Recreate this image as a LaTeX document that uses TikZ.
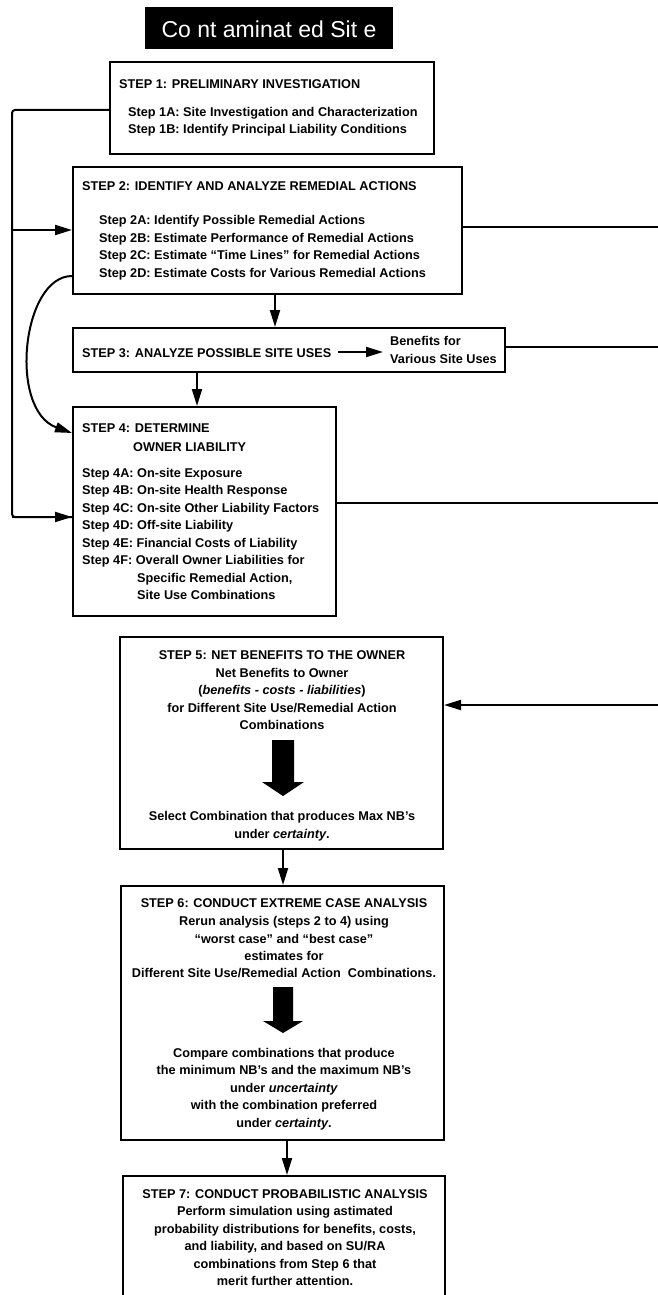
\documentclass[tikz,border=0pt]{standalone}
\usepackage{fontspec}
\setmainfont{Liberation Sans}
\usetikzlibrary{arrows.meta}
\begin{document}
\begin{tikzpicture}[x=1pt,y=-1pt,
  box/.style={draw,line width=2pt,anchor=north west,inner sep=0pt},
  txt/.style={font=\fontsize{12.7}{15}\selectfont\bfseries,anchor=base west,inner sep=0pt},
  ctxt/.style={font=\fontsize{12.7}{15}\selectfont\bfseries,anchor=base,inner sep=0pt},
  link/.style={line width=2pt},
  arr/.style={line width=2pt,-{Triangle[length=17pt,width=10pt]}},
  bigarrow/.style={fill=black}]
\useasboundingbox (0,0) rectangle (658,1295);
\clip (0,0) rectangle (658,1295);

% title
\node[fill=black,anchor=north west,minimum width=248pt,minimum height=42pt,inner sep=0pt] (title) at (145,7) {};
\node[text=white,font=\fontsize{23}{23}\selectfont,inner sep=0pt] (titletext) at (269,29) {Co nt aminat ed Sit e};

% step 1
\node[box,minimum width=324pt,minimum height=92pt] (s1) at (109,61) {};
\node[txt] (t1) at (119,89) {STEP 1: PRELIMINARY INVESTIGATION};
\node[txt] (t1a) at (128,117) {Step 1A: Site Investigation and Characterization};
\node[txt] (t1b) at (128,134) {Step 1B: Identify Principal Liability Conditions};

% step 2
\node[box,minimum width=389pt,minimum height=127pt] (s2) at (72,166) {};
\node[txt] (t2) at (82,190) {STEP 2: IDENTIFY AND ANALYZE REMEDIAL ACTIONS};
\node[txt] (t2a) at (99,224) {Step 2A: Identify Possible Remedial Actions};
\node[txt] (t2b) at (99,242) {Step 2B: Estimate Performance of Remedial Actions};
\node[txt] (t2c) at (99,259) {Step 2C: Estimate ``Time Lines'' for Remedial Actions};
\node[txt] (t2d) at (99,277) {Step 2D: Estimate Costs for Various Remedial Actions};

% step 3
\node[box,minimum width=432pt,minimum height=44pt] (s3) at (72,327) {};
\node[txt] (t3) at (82,357) {STEP 3: ANALYZE POSSIBLE SITE USES};
\node[txt] (b3a) at (390,345) {Benefits for};
\node[txt] (b3b) at (390,363) {Various Site Uses};
\coordinate (a3s) at (338,352);
\coordinate (a3e) at (383,352);
\draw[arr] (a3s) -- (a3e);

% step 4
\node[box,minimum width=263pt,minimum height=209pt] (s4) at (72,406) {};
\node[txt] (t4) at (82,432) {STEP 4: DETERMINE};
\node[txt] (t4o) at (133,451) {OWNER LIABILITY};
\node[txt] (t4a) at (82,477) {Step 4A: On-site Exposure};
\node[txt] (t4b) at (82,494) {Step 4B: On-site Health Response};
\node[txt] (t4c) at (82,512) {Step 4C: On-site Other Liability Factors};
\node[txt] (t4d) at (82,529) {Step 4D: Off-site Liability};
\node[txt] (t4e) at (82,547) {Step 4E: Financial Costs of Liability};
\node[txt] (t4f) at (82,564) {Step 4F: Overall Owner Liabilities for};
\node[txt] (t4g) at (137,582) {Specific Remedial Action,};
\node[txt] (t4h) at (137,599) {Site Use Combinations};

% step 5
\node[box,minimum width=323pt,minimum height=212pt] (s5) at (119,636) {};
\node[ctxt] (t5) at (282,659) {STEP 5: NET BENEFITS TO THE OWNER};
\node[ctxt] (t5a) at (282,677) {Net Benefits to Owner};
\node[ctxt] (t5b) at (282,694) {(\textit{benefits - costs - liabilities})};
\node[ctxt] (t5c) at (282,712) {for Different Site Use/Remedial Action};
\node[ctxt] (t5d) at (282,729) {Combinations};
\fill[bigarrow] (272,740) -- (294,740) -- (294,782) -- (304,782) -- (283,796) -- (262,782) -- (272,782) -- cycle;
\node[ctxt] (t5e) at (282,820) {Select Combination that produces Max NB's};
\node[ctxt] (t5f) at (282,838) {under \textit{certainty}.};

% step 6
\node[box,minimum width=323pt,minimum height=254pt] (s6) at (120,885) {};
\node[ctxt] (t6) at (284,907) {STEP 6: CONDUCT EXTREME CASE ANALYSIS};
\node[ctxt] (t6a) at (284,925) {Rerun analysis (steps 2 to 4) using};
\node[ctxt] (t6b) at (284,943) {``worst case'' and ``best case''};
\node[ctxt] (t6c) at (284,960) {estimates for};
\node[ctxt] (t6d) at (284,977) {Different Site Use/Remedial Action \ Combinations.};
\fill[bigarrow] (273,987) -- (293,987) -- (293,1021) -- (303,1021) -- (283,1033) -- (263,1021) -- (273,1021) -- cycle;
\node[ctxt] (t6e) at (284,1057) {Compare combinations that produce};
\node[ctxt] (t6f) at (284,1074) {the minimum NB's and the maximum NB's};
\node[ctxt] (t6g) at (284,1092) {under \textit{uncertainty}};
\node[ctxt] (t6h) at (284,1109) {with the combination preferred};
\node[ctxt] (t6i) at (284,1127) {under \textit{certainty}.};

% step 7 (continues below the page edge)
\node[box,minimum width=322pt,minimum height=140pt] (s7) at (122,1175) {};
\node[ctxt] (t7) at (285,1198) {STEP 7: CONDUCT PROBABILISTIC ANALYSIS};
\node[ctxt] (t7a) at (285,1215) {Perform simulation using astimated};
\node[ctxt] (t7b) at (285,1233) {probability distributions for benefits, costs,};
\node[ctxt] (t7c) at (285,1250) {and liability, and based on SU/RA};
\node[ctxt] (t7d) at (285,1268) {combinations from Step 6 that};
\node[ctxt] (t7e) at (285,1285) {merit further attention.};

% vertical flow
\coordinate (x23) at (275,0);
\coordinate (x34) at (197,0);
\coordinate (x56) at (283,0);
\coordinate (x67) at (287,0);
\draw[arr] (s2.south -| x23) -- (s3.north -| x23);
\draw[arr] (s3.south -| x34) -- (s4.north -| x34);
\draw[arr] (s5.south -| x56) -- (s6.north -| x56);
\draw[arr] (s6.south -| x67) -- (s7.north -| x67);

% left feedback loop from step 1
\coordinate (y1) at (0,110);
\coordinate (y2) at (0,230);
\coordinate (y4) at (0,517);
\coordinate (lx) at (12,0);
\draw[link,rounded corners=3pt] (s1.west |- y1) -- (lx |- y1) -- (lx |- y4) -- (s4.west |- y4);
\draw[arr] (lx |- y4) -- (s4.west |- y4);
\draw[arr] (lx |- y2) -- (s2.west |- y2);

% curved link from step 2 to step 4
\coordinate (yc2) at (0,276);
\coordinate (yc4) at (0,433);
\draw[arr] (s2.west |- yc2) .. controls (22,276) and (8,410) .. (s4.west |- yc4);

% links to the right edge
\coordinate (e2) at (658,227);
\coordinate (e3) at (658,347);
\coordinate (e4) at (658,503);
\coordinate (e5) at (658,705);
\draw[link] (s2.east |- e2) -- (e2);
\draw[link] (s3.east |- e3) -- (e3);
\draw[link] (s4.east |- e4) -- (e4);
\draw[arr] (e5) -- (s5.east |- e5);
\end{tikzpicture}
\end{document}
